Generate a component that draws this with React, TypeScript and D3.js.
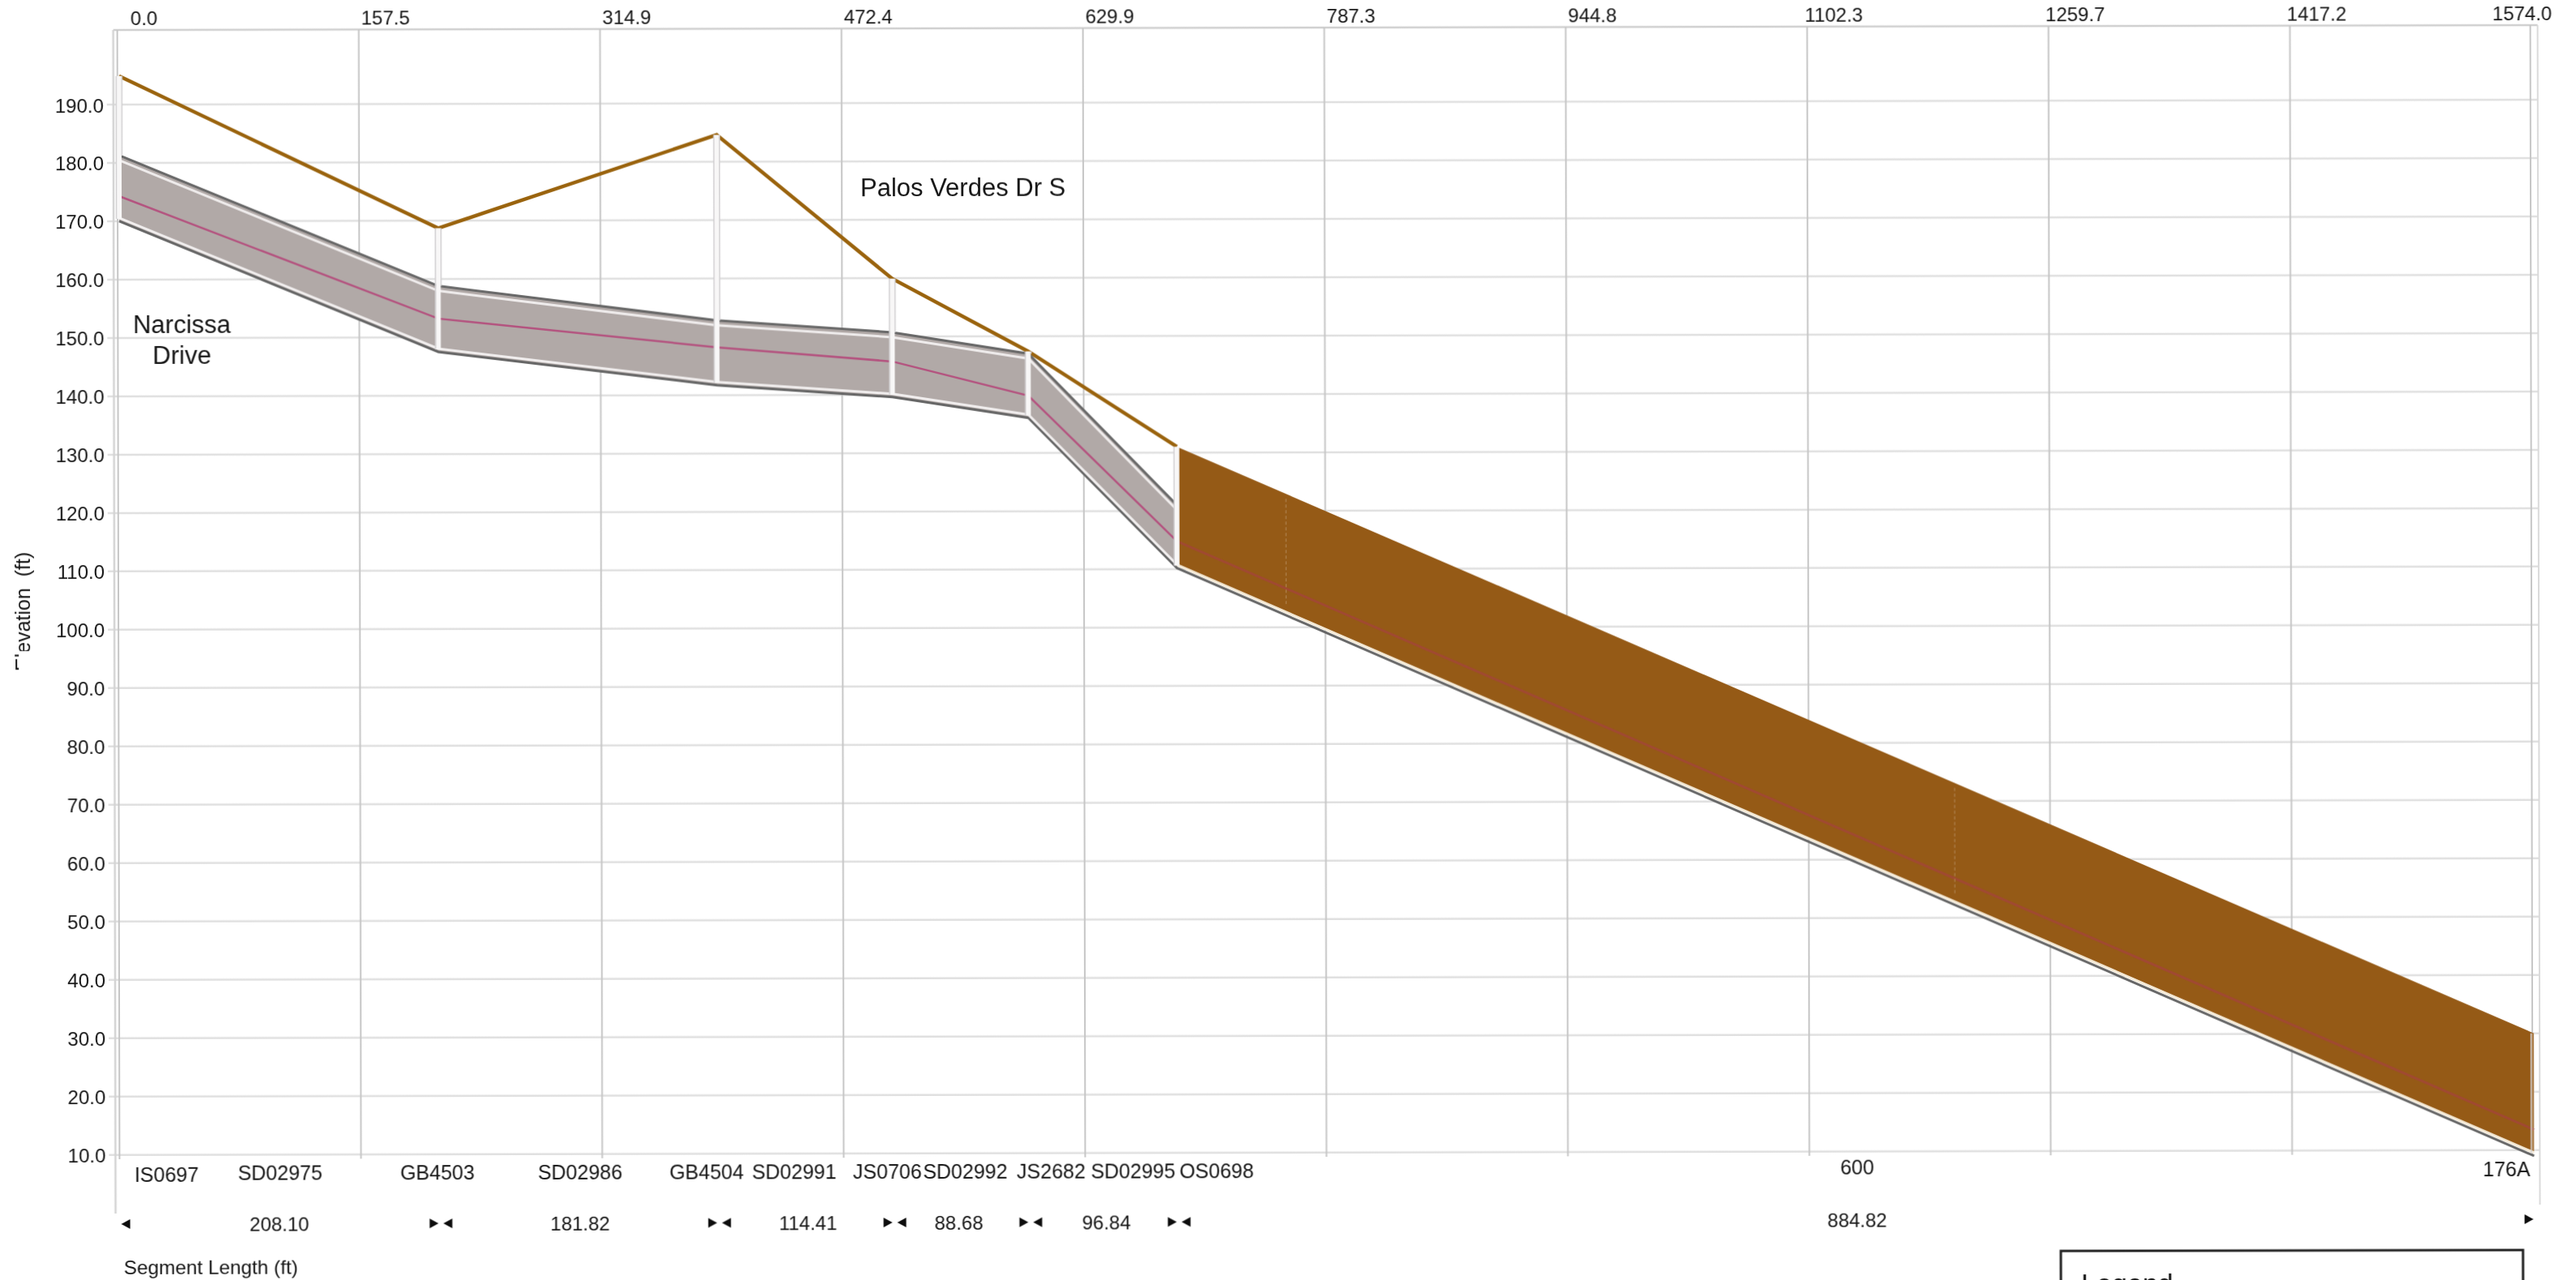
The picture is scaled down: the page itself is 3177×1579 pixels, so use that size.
import React, { useEffect } from "react";
import * as d3 from "d3";

// ---- data ----
const elevationTicks = [10, 20, 30, 40, 50, 60, 70, 80, 90, 100, 110, 120, 130, 140, 150, 160, 170, 180, 190];
const stationTicks = [0, 157.5, 314.9, 472.4, 629.9, 787.3, 944.8, 1102.3, 1259.7, 1417.2, 1574.0];
const nodeNames = ["IS0697", "GB4503", "GB4504", "JS0706", "JS2682", "OS0698", "176A"];
const nodeStations = [0, 208.1, 389.92, 504.33, 593.01, 689.85, 1574.67];
const groundElev = [194.9, 168.7, 184.6, 159.9, 147.4, 131.0, 30.0];
const crownElev = [181.3, 158.8, 152.8, 150.7, 147.0, 121.0, 30.0];
const invertElev = [170.0, 147.5, 141.7, 139.6, 136.0, 110.2, 9.0];
const hglElev = [174.3, 153.2, 148.2, 145.7, 139.8, 114.8, 13.5];
const conduitNames = ["SD02975", "SD02986", "SD02991", "SD02992", "SD02995"];
const conduitLengths = ["208.10", "181.82", "114.41", "88.68", "96.84"];
const fullConduitLabel = "884.82";
const midNodeName = "600";
const faintStations = [761, 1197];

const FONT = "'Liberation Sans', Arial, sans-serif";
const GROUND = "#9a6410";
const BROWN = "#955a18";
const GREY_PIPE = "#b1a9a7";
const MAGENTA = "#b4527f";

const x = d3.scaleLinear().domain([0, 1574]).range([146, 3122]);
const xNode = d3.scaleLinear().domain([0, 1574.67]).range([148, 3124]);
const y = d3.scaleLinear().domain([10, 190]).range([1424.7, 129]);

const idx = nodeStations.map((_, i) => i);
const lineOf = (vals: number[], dy = 0) =>
  d3.line<number>().x((i) => xNode(nodeStations[i])).y((i) => y(vals[i]) + dy);
const areaBetween = d3
  .area<number>()
  .x((i) => xNode(nodeStations[i]))
  .y0((i) => y(invertElev[i]))
  .y1((i) => y(crownElev[i]));

function T(p: any) {
  return <text fontFamily={FONT} fontSize={24} fill="#161616" dominantBaseline="central" {...p} />;
}

function Bowtie({ cx, cy, left, right }: { cx: number; cy: number; left: boolean; right: boolean }) {
  return (
    <g fill="#111">
      {left && <path d={`M${cx - 14},${cy - 6}L${cx - 3},${cy}L${cx - 14},${cy + 6}Z`} />}
      {right && <path d={`M${cx + 14},${cy - 6}L${cx + 3},${cy}L${cx + 14},${cy + 6}Z`} />}
    </g>
  );
}

export default function App() {
  useEffect(() => {
    document.body.style.margin = "0";
    document.body.style.background = "#fff";
  }, []);
  const last = nodeStations.length - 1;
  const interp = (vals: number[], s: number) =>
    d3.scaleLinear().domain(nodeStations).range(vals)(s);
  return (
    <svg
      width={3177}
      height={1579}
      viewBox="0 0 3177 1579"
      style={{ position: "absolute", left: 0, top: 0, display: "block", background: "#fff" }}
    >
      <defs>
        <filter id="scan" x="-1%" y="-1%" width="102%" height="102%">
          <feGaussianBlur stdDeviation="0.6" />
        </filter>
      </defs>
      <g transform="rotate(-0.115 144 730)" filter="url(#scan)">
        {/* grid */}
        <line x1={141} x2={3131} y1={37} y2={37} stroke="#d0d0d0" strokeWidth={2.5} />
        {elevationTicks.map((v) => (
          <line key={v} x1={133} x2={3131} y1={y(v)} y2={y(v)} stroke="#e0e0e0" strokeWidth={2.5} />
        ))}
        {stationTicks.map((d) => (
          <line key={d} x1={x(d)} x2={x(d)} y1={37} y2={1430} stroke="#c6c6c6" strokeWidth={2} />
        ))}
        <line x1={141} x2={141} y1={37} y2={1497} stroke="#d4d4d4" strokeWidth={2.5} />
        <line x1={3131} x2={3131} y1={37} y2={1492} stroke="#dadada" strokeWidth={2} />

        {/* tick labels */}
        {elevationTicks.map((v) => (
          <T key={v} x={129} y={y(v) + 1} textAnchor="end">
            {v.toFixed(1)}
          </T>
        ))}
        {stationTicks.map((d, i) => (
          <T key={d} x={i === stationTicks.length - 1 ? x(d) - 10 : x(d) + 33} y={22} textAnchor="middle">
            {d.toFixed(1)}
          </T>
        ))}

        {/* ground line */}
        <path
          d={lineOf(groundElev)(idx.slice(0, 6)) as string}
          fill="none"
          stroke={GROUND}
          strokeWidth={4.5}
          strokeLinejoin="miter"
        />

        {/* conduit bodies */}
        <path d={areaBetween(idx.slice(0, 6)) as string} fill={GREY_PIPE} />
        <path
          d={
            d3
              .area<number>()
              .x((i) => xNode(nodeStations[i]))
              .y0((i) => y(invertElev[i]) - 5)
              .y1((i) => y(groundElev[i]))(idx.slice(5)) as string
          }
          fill={BROWN}
        />
        {/* pipe edge lines */}
        <path d={lineOf(crownElev)(idx.slice(0, 6)) as string} fill="none" stroke="#676767" strokeWidth={3} />
        <path d={lineOf(crownElev, 6)(idx.slice(0, 6)) as string} fill="none" stroke="#efecec" strokeWidth={3} />
        <path d={lineOf(invertElev)(idx) as string} fill="none" stroke="#666" strokeWidth={3} />
        <path d={lineOf(invertElev, -4)(idx.slice(0, 6)) as string} fill="none" stroke="#f1eeee" strokeWidth={3} />
        <path d={lineOf(invertElev, -4)(idx.slice(5)) as string} fill="none" stroke="#f5ead6" strokeWidth={3} />

        {/* hydraulic grade line */}
        <path d={lineOf(hglElev)(idx.slice(0, 6)) as string} fill="none" stroke={MAGENTA} strokeWidth={2.5} />
        <path d={lineOf(hglElev)(idx.slice(5)) as string} fill="none" stroke="#a04a30" strokeWidth={3} />

        {/* faint joints inside the outfall conduit */}
        {faintStations.map((s) => (
          <line
            key={s}
            x1={xNode(s)}
            x2={xNode(s)}
            y1={y(interp(groundElev, s)) + 6}
            y2={y(interp(invertElev, s)) - 14}
            stroke="#a97a44"
            strokeWidth={1.5}
            strokeDasharray="4 3"
          />
        ))}

        {/* node shafts */}
        {idx.map((i) => {
          const cx = xNode(nodeStations[i]);
          const top = y(groundElev[i]);
          const bottom = y(invertElev[i]) - 3;
          return (
            <g key={nodeNames[i]}>
              <rect x={cx - 3} y={top} width={6} height={bottom - top} fill="#f8f7f7" fillOpacity={i === last ? 0.25 : 1} />
              <line x1={cx - 3.5} x2={cx - 3.5} y1={top} y2={bottom} stroke="#d2d0d2" strokeWidth={1.5} />
              {i !== last && i !== 5 && (
                <line x1={cx + 3.5} x2={cx + 3.5} y1={top} y2={y(crownElev[i])} stroke="#d2d0d2" strokeWidth={1.5} />
              )}
            </g>
          );
        })}

        {/* node and conduit labels */}
        <T x={204} y={1449} fontSize={25} textAnchor="middle">{nodeNames[0]}</T>
        <T x={538} y={1447} fontSize={25} textAnchor="middle">{nodeNames[1]}</T>
        <T x={870} y={1447} fontSize={25} textAnchor="middle">{nodeNames[2]}</T>
        <T x={1093} y={1447} fontSize={25} textAnchor="middle">{nodeNames[3]}</T>
        <T x={1295} y={1447} fontSize={25} textAnchor="middle">{nodeNames[4]}</T>
        <T x={1499} y={1447} fontSize={25} textAnchor="middle">{nodeNames[5]}</T>
        <T x={2289} y={1444} fontSize={25} textAnchor="middle">{midNodeName}</T>
        <T x={3090} y={1448} fontSize={25} textAnchor="middle">{nodeNames[6]}</T>
        {conduitNames.map((n, i) => (
          <T key={n} x={[344, 714, 978, 1189, 1396][i]} y={1447} fontSize={25} textAnchor="middle">{n}</T>
        ))}
        {conduitLengths.map((n, i) => (
          <T key={n} x={[343, 714, 995, 1181, 1363][i]} y={1510} textAnchor="middle">{n}</T>
        ))}
        <T x={2289} y={1509} textAnchor="middle">{fullConduitLabel}</T>

        {/* segment arrows */}
        {idx.map((i) => (
          <Bowtie
            key={i}
            cx={i === 0 ? 145 : i === last ? 3126 : xNode(nodeStations[i]) + 1}
            cy={1510}
            left={i !== 0}
            right={i !== last}
          />
        ))}

        <T x={151} y={1563} fontSize={24.3}>Segment Length (ft)</T>

        {/* street annotations */}
        <T x={1062} y={233} fontSize={31}>Palos Verdes Dr S</T>
        <T x={225} y={400} fontSize={31} textAnchor="middle">Narcissa</T>
        <T x={225} y={438} fontSize={31} textAnchor="middle">Drive</T>

        {/* axis title, partly erased on the scan */}
        <text
          transform="translate(28,828) rotate(-90)"
          fontFamily={FONT}
          fontSize={25}
          fill="#161616"
          dominantBaseline="central"
          style={{ whiteSpace: "pre" }}
        >
          {"Elevation  (ft)"}
        </text>
        <rect x={23} y={803} width={14} height={31} fill="#fff" />

        {/* legend box, cut by the page edge */}
        <rect x={2540} y={1548} width={570} height={80} fill="#fff" stroke="#222" strokeWidth={3} />
        <T x={2565} y={1588} fontSize={34}>Legend</T>
      </g>
    </svg>
  );
}
